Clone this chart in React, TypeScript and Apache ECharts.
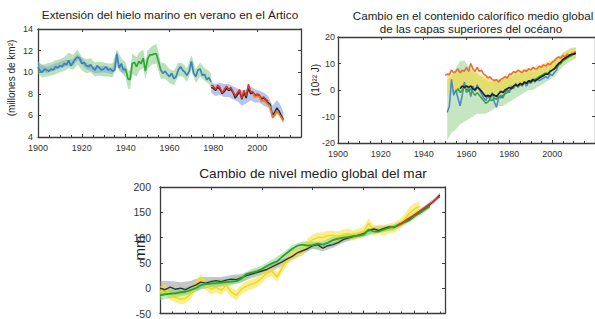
import React, { useEffect, useRef } from "react";
import * as echarts from "echarts";

const FONT = '"Liberation Sans", Arial, sans-serif';

// ---------- Titles / names ----------
const titleIce = "Extensión del hielo marino en verano en el Ártico";
const titleOhc1 = "Cambio en el contenido calorífico medio global";
const titleOhc2 = "de las capas superiores del océano";
const titleSl = "Cambio de nivel medio global del mar";
const nameIce = "(millones de km²)";
const nameOhc = "(10²² J)";
const nameSl = "mm";

// ---------- Panel 1: Arctic summer sea ice (millions km²) ----------
const iceBlueEarlyStart = 1900;
const iceBlueEarly = [
  10.5, 10.1, 10.0, 10.3, 10.2, 10.1, 10.3, 10.2, 10.5, 10.4,
  10.6, 10.5, 10.8, 10.7, 11.1, 10.6, 10.9, 11.2, 11.4, 11.3,
  10.8, 10.9, 10.6, 10.5, 10.7, 10.4, 10.2, 10.6, 10.4, 10.2,
  10.3, 10.5, 10.2, 10.3, 10.1, 10.2, 11.7, 10.4, 10.8, 10.2,
  10.3,
];
const iceGreenStart = 1940;
const iceGreen = [
  10.3, 9.4, 9.3, 10.8, 10.9, 10.5, 11.0, 10.8, 11.3, 10.1,
  11.2, 11.6, 11.6, 11.7, 11.7, 11.0, 10.2,
];
const iceBlueLateStart = 1956;
const iceBlueLate = [
  10.2, 9.9, 10.1, 9.8, 9.6, 9.9, 9.4, 9.6, 10.2, 10.5,
  10.2, 10.0, 9.7, 10.1, 11.0, 9.9, 9.6, 10.2, 10.3, 9.7,
  9.8, 9.3, 9.5, 9.1,
];
const iceHistBand = [
  [1900, 9.8, 11.0], [1902, 9.5, 10.7], [1904, 9.6, 10.8], [1906, 9.7, 10.9],
  [1908, 9.8, 11.1], [1910, 10.0, 11.2], [1912, 10.1, 11.4], [1914, 10.4, 11.8],
  [1916, 10.2, 11.6], [1918, 10.7, 12.1], [1920, 10.2, 11.4], [1922, 9.9, 11.2],
  [1924, 10.0, 11.3], [1926, 9.6, 10.9], [1928, 9.7, 11.0], [1930, 9.6, 10.9],
  [1932, 9.6, 10.8], [1934, 9.5, 10.8], [1936, 10.5, 12.1], [1938, 10.0, 11.3],
  [1940, 9.5, 10.9], [1941, 8.5, 10.2], [1942, 8.4, 10.1], [1943, 9.8, 11.7],
  [1945, 9.6, 11.4], [1946, 10.1, 11.8], [1948, 10.4, 12.1], [1949, 9.3, 11.0],
  [1950, 10.3, 12.0], [1952, 10.7, 12.4], [1954, 10.8, 12.6], [1955, 10.1, 11.8],
  [1956, 9.4, 10.9], [1958, 9.4, 10.8], [1960, 9.0, 10.3], [1962, 8.8, 10.1],
  [1964, 9.6, 10.9], [1966, 9.6, 10.8], [1968, 9.1, 10.4], [1970, 10.2, 11.6],
  [1972, 9.0, 10.3], [1974, 9.6, 10.9], [1976, 9.2, 10.4], [1978, 8.9, 10.1],
  [1979, 8.5, 9.8],
];
const iceBlueHalo = [
  [1900, 10.2, 10.8], [1904, 9.9, 10.5], [1908, 10.2, 10.8], [1912, 10.5, 11.1],
  [1916, 10.6, 11.2], [1918, 11.1, 11.7], [1922, 10.3, 10.9], [1926, 9.9, 10.5],
  [1930, 10.0, 10.6], [1934, 9.8, 10.4], [1936, 11.3, 12.0], [1937, 10.1, 10.7],
  [1939, 9.9, 10.5], [1940, 10.0, 10.6],
];
const iceSatStart = 1979;
const iceBlack = [
  8.6, 8.5, 8.3, 8.6, 8.4, 8.0, 8.2, 8.5, 8.3, 8.4,
  8.1, 7.6, 7.9, 8.2, 7.5, 8.1, 7.6, 8.5, 8.0, 8.1,
  7.8, 7.9, 7.8, 7.5, 7.6, 7.4, 7.2, 7.0, 6.0, 6.3,
  6.7, 6.4, 6.0, 5.6,
];
const iceRed = [
  8.8, 8.7, 8.4, 8.8, 8.6, 8.1, 8.4, 8.7, 8.4, 8.6,
  8.2, 7.8, 8.1, 8.4, 7.6, 8.3, 7.8, 8.9, 8.2, 8.2,
  7.9, 8.0, 7.9, 7.6, 7.7, 7.5, 7.3,
];
const iceOrangeStart = 1998;
const iceOrange = [
  8.0, 7.7, 7.8, 7.7, 7.3, 7.4, 7.2, 7.0, 6.8, 5.8,
  6.0, 6.4, 6.1, 5.8, 5.5,
];
const iceSatBand = [
  [1979, 8.1, 9.1], [1981, 7.8, 8.9], [1983, 7.9, 9.0], [1985, 7.7, 8.9],
  [1987, 7.7, 8.9], [1989, 7.5, 8.7], [1991, 7.3, 8.5], [1993, 6.9, 8.3],
  [1995, 7.1, 8.4], [1997, 7.4, 8.7], [1999, 7.2, 8.4], [2001, 7.2, 8.3],
  [2003, 6.9, 8.1], [2005, 6.7, 7.8], [2007, 5.7, 6.9], [2009, 6.1, 7.4],
  [2010, 6.1, 7.2], [2011, 5.6, 6.8], [2012, 5.2, 6.3],
];

// ---------- Panel 2: upper ocean heat content (10^22 J) ----------
const ohcOrangeStart = 1950;
const ohcOrange = [
  5.5, 6.0, 5.8, 7.5, 6.5, 7.0, 8.0, 6.5, 7.5, 7.0,
  8.5, 7.0, 10.0, 8.0, 7.0, 8.5, 7.0, 7.5, 6.0, 5.5,
  4.5, 5.0, 4.0, 3.5, 4.0, 3.0, 4.0, 4.5, 5.0, 4.5,
  6.0, 6.0, 7.0, 6.5, 7.5, 7.0, 6.5, 7.5, 7.0, 8.0,
  7.5, 8.5, 8.0, 8.0, 9.0, 8.5, 9.5, 9.0, 10.0, 9.5,
  10.5, 11.0, 12.0, 12.5, 12.0, 13.0, 12.5, 13.5, 13.0, 13.5, 14.0, 14.5,
];
const ohcBlackStart = 1957;
const ohcBlack = [
  0.5, 1.5, 1.0,
  1.5, 1.0, 1.5, 0.5, 0.0, 1.0, 0.5, -0.5, -1.5, -2.5,
  -2.0, -2.5, -1.5, -2.0, -2.5, -1.5, -0.5, -1.0, 0.0, 0.5,
  1.0, 0.5, 1.5, 2.0, 1.5, 2.5, 2.0, 3.0, 2.5, 3.5,
  3.0, 4.0, 3.5, 4.0, 4.5, 5.0, 5.5, 6.0, 6.0, 7.0,
  7.5, 8.0, 9.0, 10.0, 10.5, 11.5, 12.0, 12.5, 13.0, 13.5, 13.5, 14.0,
];
const ohcBlueStart = 1951;
const ohcBlue = [
  -8.5, -6.0, 4.0, -2.0, 0.0, -3.0, -6.0, -2.0, 3.0,
  -1.0, 1.0, -2.5, 1.5, -0.5, 2.0, 0.0, -1.5, -3.0, -4.0,
  -2.0, -3.5, -1.0, -4.5, -6.5, -3.0, -2.0, -3.0, -1.0, 0.0,
  -1.0, 1.5, 0.5, 2.5, 1.0, 2.0, 1.5, 3.0, 1.5, 3.0,
  2.5, 3.5, 3.0, 4.0, 3.5, 4.0, 4.5, 5.0, 4.5, 6.0,
  5.5, 6.5, 7.5, 9.5, 10.5, 11.5, 12.0, 12.5, 13.0, 13.0, 13.5, 13.5,
];
const ohcGreenStart = 1955;
const ohcGreen = [
  -1.0, 0.5, -1.0, 0.0, 1.0,
  0.0, -0.5, 0.5, -1.0, -2.0, -1.0, -2.0, -3.0, -4.0, -5.0,
  -4.5, -3.5, -4.0, -3.0, -3.5, -2.5, -3.0, -2.0, -1.5, -1.0,
  0.0, 0.5, 1.0, 2.0, 1.5, 2.5, 2.0, 3.0, 2.5, 3.5,
  3.5, 4.0, 4.0, 4.5, 5.0, 5.5, 6.0, 6.5, 6.0, 7.0,
  7.5, 8.0, 8.5, 9.5, 10.0, 11.0, 11.5, 12.0, 12.5, 13.0, 13.5, 14.0,
];
const ohcYellowBand = [
  [1951, -2, 6], [1954, 0, 6], [1957, 0, 7], [1960, 1, 7], [1963, 0, 8],
  [1966, 1, 6], [1969, -1, 5], [1972, -2, 4], [1975, -1, 4], [1978, 0, 5],
  [1981, 1, 6], [1984, 2, 7], [1987, 3, 8], [1990, 3, 8], [1993, 4, 9],
  [1996, 5, 10], [1999, 6, 11], [2002, 8, 12], [2005, 10, 14], [2008, 12, 15],
  [2011, 12, 16],
];
const ohcGreenBand = [
  [1951, -19, 4], [1953, -16, 5], [1955, -15, 8], [1957, -13, 11], [1959, -12, 11],
  [1961, -11, 9], [1963, -10, 7], [1965, -9, 6], [1967, -9, 5], [1969, -9, 4],
  [1971, -8, 3], [1973, -7, 3], [1975, -6, 4], [1977, -6, 4], [1979, -5, 5],
  [1981, -4, 5], [1983, -3, 6], [1985, -2, 6], [1987, -1, 6], [1989, 0, 7],
  [1991, 0, 7], [1993, 1, 8], [1995, 2, 8], [1997, 3, 9], [1999, 4, 10],
  [2001, 5, 11], [2003, 7, 12], [2005, 9, 14], [2007, 10, 15], [2009, 11, 16],
  [2011, 12, 16],
];

// ---------- Panel 3: global mean sea level (mm), every 2 years ----------
const slStart = 1900;
const slStep = 2;
const slBlack = [
  0, -3, 2, -2, 0, -3, 2, 6, 12, 10,
  13, 15, 13, 16, 18, 17, 21, 25, 28, 31,
  34, 37, 42, 47, 52, 58, 63, 70, 74, 78,
  84, 86, 79, 84, 86, 90, 96, 99, 102, 105,
  108, 114, 117, 114, 118, 121, 120, 126, 131, 136,
  145, 152, 158, 165, 174, 184,
];
const slGreen = [
  -14, -12, -11, -10, -8, -7, -4, 0, 6, 8,
  9, 10, 11, 12, 13, 14, 19, 28, 31, 33,
  38, 44, 49, 53, 62, 70, 78, 84, 86, 84,
  85, 88, 86, 90, 95, 98, 100, 101, 103, 104,
  106, 116, 112, 112, 116, 119, 121, 126, 130, 134,
  142, 148, 155, 162,
];
const slYellow = [
  -8, -2, -14, -18, -22, -20, -12, 4, 20, 6,
  -2, 2, -4, 6, -8, -14, -2, 4, 8, 12,
  20, 30, 34, 22, 40, 56, 66, 70, 74, 88,
  96, 100, 100, 104, 104, 102, 106, 108, 104, 108,
  112, 128, 114, 116, 114, 118, 120, 126, 136, 148,
  156, 162,
];
const slRed = [
  [1993, 122], [1995, 128], [1997, 136], [1999, 142], [2001, 148],
  [2003, 156], [2005, 163], [2007, 170], [2009, 178], [2010, 181],
];
const slGrayBand = [
  [1900, -14, 14], [1904, -12, 14], [1908, -14, 12], [1912, -10, 14], [1916, -2, 22],
  [1920, 2, 22], [1924, 4, 22], [1928, 8, 26], [1932, 12, 28], [1936, 20, 34],
  [1940, 26, 40], [1944, 34, 48], [1948, 44, 58], [1952, 56, 70], [1956, 67, 80],
  [1960, 78, 90], [1964, 73, 85], [1968, 80, 92], [1972, 90, 102], [1976, 96, 108],
  [1980, 102, 114], [1984, 110, 122], [1988, 112, 124], [1992, 114, 126], [1996, 126, 136],
  [2000, 140, 150], [2004, 153, 163], [2008, 169, 179], [2010, 179, 189],
];
const slGreenBand = [
  [1900, -24, -4], [1904, -20, -2], [1908, -16, 0], [1912, -12, 4], [1916, -2, 14],
  [1920, 2, 16], [1924, 4, 18], [1928, 6, 20], [1932, 12, 26], [1936, 24, 38],
  [1940, 31, 45], [1944, 42, 56], [1948, 55, 69], [1952, 71, 85], [1956, 79, 93],
  [1960, 78, 92], [1964, 79, 93], [1968, 88, 102], [1972, 94, 106], [1976, 98, 108],
  [1980, 101, 111], [1984, 107, 117], [1988, 111, 121], [1992, 116, 126], [1996, 125, 135],
  [2000, 137, 147], [2004, 150, 160], [2006, 157, 167],
];
const slYellowBand = [
  [1900, -18, 4], [1902, -12, 8], [1904, -24, -4], [1906, -28, -8], [1908, -32, -12],
  [1910, -30, -10], [1912, -22, -2], [1914, -6, 14], [1916, 10, 28], [1918, -4, 16],
  [1920, -12, 8], [1922, -8, 12], [1924, -14, 6], [1926, -4, 16], [1928, -18, 2],
  [1930, -24, -4], [1932, -12, 8], [1934, -6, 14], [1936, -2, 18], [1938, 2, 22],
  [1940, 10, 30], [1942, 20, 40], [1944, 24, 44], [1946, 12, 32], [1948, 30, 50],
  [1950, 46, 66], [1952, 56, 76], [1954, 60, 80], [1956, 64, 84], [1958, 78, 98],
  [1960, 86, 106], [1962, 90, 110], [1964, 90, 110], [1966, 94, 114], [1968, 94, 114],
  [1970, 92, 112], [1972, 96, 116], [1974, 98, 118], [1976, 94, 114], [1978, 98, 118],
  [1980, 102, 122], [1982, 116, 138], [1984, 104, 124], [1986, 106, 126], [1988, 104, 124],
  [1990, 108, 128], [1992, 110, 130], [1994, 116, 136], [1996, 126, 146], [1998, 136, 160],
  [2000, 144, 168], [2002, 150, 172],
];

// ---------- helpers ----------
const pairs = (start: number, step: number, vals: number[]) =>
  vals.map((v, i) => [start + i * step, v]);

const AXIS = "#3c3c3c";

function bandSeries(data: number[][], idx: number, color: string, z: number) {
  return {
    type: "custom",
    xAxisIndex: idx,
    yAxisIndex: idx,
    z,
    silent: true,
    data,
    encode: { x: 0, y: [1, 2] },
    renderItem: (params: any, api: any) => {
      if (params.dataIndex !== 0) return null;
      const up = data.map((d) => api.coord([d[0], d[2]]));
      const lo = data.map((d) => api.coord([d[0], d[1]])).reverse();
      return {
        type: "polygon",
        shape: { points: up.concat(lo) },
        style: { fill: color, stroke: "none" },
      };
    },
  };
}

function lineSeries(data: number[][], idx: number, color: string, width: number, z: number) {
  return {
    type: "line",
    xAxisIndex: idx,
    yAxisIndex: idx,
    data,
    showSymbol: false,
    symbol: "none",
    silent: true,
    z,
    lineStyle: { color, width },
    itemStyle: { color },
  };
}

function xAxes(grid: number, min: number, max: number, showLabels: boolean, fontSize: number) {
  const line = { show: true, onZero: false, lineStyle: { color: AXIS, width: 1.3 } };
  return [
    {
      type: "value", gridIndex: grid, min, max, interval: 20, position: "bottom",
      axisLine: line,
      axisTick: { show: true, inside: true, length: 3, lineStyle: { color: AXIS } },
      minorTick: { show: true, splitNumber: 4, length: 2, lineStyle: { color: AXIS } },
      axisLabel: {
        show: showLabels, showMaxLabel: false, showMinLabel: true, margin: 6,
        color: "#333", fontSize, fontFamily: FONT, formatter: (v: number) => String(v),
      },
      splitLine: { show: false },
      minorSplitLine: { show: false },
    },
    {
      type: "value", gridIndex: grid, min, max, interval: 20, position: "top",
      axisLine: line,
      axisTick: { show: true, inside: true, length: 3, lineStyle: { color: AXIS } },
      axisLabel: { show: false },
      splitLine: { show: false },
    },
  ];
}

function yAxes(grid: number, min: number, max: number, interval: number, margin: number, fontSize: number) {
  const line = { show: true, onZero: false, lineStyle: { color: AXIS, width: 1.3 } };
  return [
    {
      type: "value", gridIndex: grid, min, max, interval, position: "left",
      axisLine: line,
      axisTick: { show: true, inside: true, length: 3, lineStyle: { color: AXIS } },
      axisLabel: {
        margin, color: "#333", fontSize, fontFamily: FONT,
        formatter: (v: number) => String(v),
      },
      splitLine: { show: false },
    },
    {
      type: "value", gridIndex: grid, min, max, interval, position: "right",
      axisLine: line,
      axisTick: { show: true, inside: true, length: 3, lineStyle: { color: AXIS } },
      axisLabel: { show: false },
      splitLine: { show: false },
    },
  ];
}

function txt(text: string, x: number, y: number, size: number, rotate = 0) {
  return {
    type: "text",
    x, y,
    rotation: rotate,
    silent: true,
    z: 100,
    style: {
      text,
      fill: "#222",
      font: `${size}px ${FONT}`,
      textAlign: "center",
      align: "center",
      textVerticalAlign: "middle",
      verticalAlign: "middle",
    },
  };
}

export default function App() {
  const ref = useRef<HTMLDivElement>(null);

  useEffect(() => {
    if (!ref.current) return;
    const chart = echarts.init(ref.current, undefined, { renderer: "svg" });

    const option: any = {
      animation: false,
      backgroundColor: "#ffffff",
      grid: [
        { left: 38, top: 29, width: 263, height: 108 },
        { left: 338, top: 37, width: 263, height: 106 },
        { left: 160, top: 187, width: 285, height: 128 },
      ],
      xAxis: [
        ...xAxes(0, 1900, 2020, true, 9),
        ...xAxes(1, 1900, 2020, true, 9),
        ...xAxes(2, 1900, 2012, false, 10),
      ],
      yAxis: [
        ...yAxes(0, 4, 14, 2, 5, 9),
        ...yAxes(1, -20, 20, 10, 3, 9),
        ...yAxes(2, -50, 200, 50, 9, 10.5),
      ],
      graphic: [
        txt(titleIce, 170, 15, 11.8),
        txt(titleOhc1, 473, 15, 11.6),
        txt(titleOhc2, 471, 28, 11.6),
        txt(titleSl, 313, 173, 13.6),
        txt(nameIce, 11, 78, 10, Math.PI / 2),
        txt(nameOhc, 315, 80, 10, Math.PI / 2),
        txt(nameSl, 139, 248, 15, Math.PI / 2),
      ],
      series: [
        // panel 1
        bandSeries(iceHistBand, 0, "rgba(130,200,130,0.55)", 1),
        bandSeries(iceBlueHalo, 0, "rgba(90,140,200,0.35)", 2),
        bandSeries(iceSatBand, 0, "rgba(110,140,225,0.5)", 2),
        lineSeries(pairs(iceBlueEarlyStart, 1, iceBlueEarly), 0, "#3d7fc0", 1.7, 3),
        lineSeries(pairs(iceBlueLateStart, 1, iceBlueLate), 0, "#3d7fc0", 1.7, 3),
        lineSeries(pairs(iceGreenStart, 1, iceGreen), 0, "#2fa832", 1.7, 4),
        lineSeries(pairs(iceSatStart, 1, iceBlack), 0, "#2a2a2a", 1.4, 5),
        lineSeries(pairs(iceSatStart, 1, iceRed), 0, "#e4321e", 1.5, 6),
        lineSeries(pairs(iceOrangeStart, 1, iceOrange), 0, "#f07a1e", 1.7, 7),
        // panel 2
        bandSeries(ohcGreenBand, 2, "rgba(140,205,130,0.5)", 1),
        bandSeries(ohcYellowBand, 2, "rgba(250,215,40,0.55)", 2),
        lineSeries(pairs(ohcBlueStart, 1, ohcBlue), 2, "#4a86c8", 1.5, 3),
        lineSeries(pairs(ohcGreenStart, 1, ohcGreen), 2, "#36a03c", 1.5, 4),
        lineSeries(pairs(ohcOrangeStart, 1, ohcOrange), 2, "#ee6a3a", 1.6, 5),
        lineSeries(pairs(ohcBlackStart, 1, ohcBlack), 2, "#222222", 1.7, 6),
        // panel 3
        bandSeries(slGrayBand, 4, "rgba(130,130,130,0.45)", 1),
        bandSeries(slYellowBand, 4, "rgba(245,225,50,0.55)", 2),
        bandSeries(slGreenBand, 4, "rgba(120,215,120,0.5)", 3),
        lineSeries(pairs(slStart, slStep, slYellow), 4, "#f0d820", 1.5, 4),
        lineSeries(pairs(slStart, slStep, slBlack), 4, "#333333", 1.4, 5),
        lineSeries(pairs(slStart, slStep, slGreen), 4, "#2ca02c", 1.8, 6),
        lineSeries(slRed, 4, "#e0321e", 1.5, 7),
      ],
    };

    chart.setOption(option);
    return () => chart.dispose();
  }, []);

  return (
    <div
      ref={ref}
      style={{ position: "absolute", left: 0, top: 0, width: 595, height: 319, background: "#fff" }}
    />
  );
}
